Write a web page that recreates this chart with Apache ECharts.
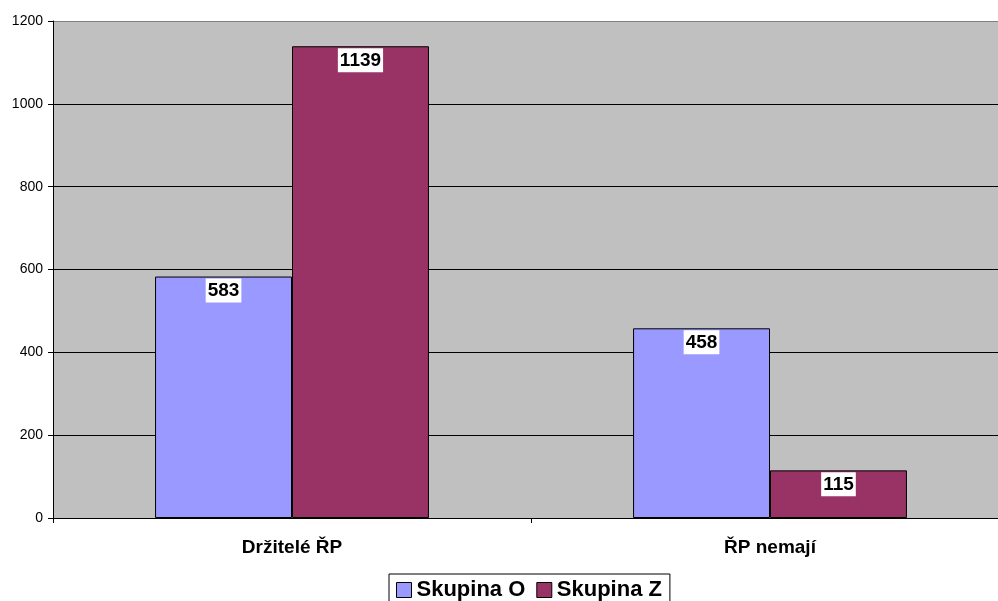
<!DOCTYPE html>
<html>
<head>
<meta charset="utf-8">
<script src="https://cdn.jsdelivr.net/npm/echarts@6/dist/echarts.min.js"></script>
<style>
  html, body { margin: 0; padding: 0; background: #ffffff; overflow: hidden; }
  /* The plot frame runs a little past the right edge of the page */
  #chart { width: 1009px; height: 601px; }
</style>
</head>
<body>
<div id="chart"></div>
<script>
// Categories and the two groups being compared
const categories = ['Držitelé ŘP', 'ŘP nemají'];
const seriesNames = ['Skupina O', 'Skupina Z'];
const skupinaO = [583, 458];
const skupinaZ = [1139, 115];
const yTicks = { min: 0, max: 1200, step: 200 };

const FONT = 'Liberation Sans, Arial, sans-serif';

const chart = echarts.init(document.getElementById('chart'), null, { renderer: 'canvas' });

const labelStyle = {
  show: true,
  position: 'insideTop',
  distance: 2,
  color: '#000000',
  fontFamily: FONT,
  fontWeight: 'bold',
  fontSize: 19,
  backgroundColor: '#ffffff',
  padding: [3, 2, 2, 2]
};

// Seven horizontal lines from 0 to 1200; the top one is the grey frame edge
const splitColors = [];
for (let v = yTicks.min; v <= yTicks.max; v += yTicks.step) {
  splitColors.push(v === yTicks.max ? '#808080' : '#000000');
}

chart.setOption({
  animation: false,
  backgroundColor: '#ffffff',
  grid: {
    left: 53,
    top: 21,
    bottom: 83,
    right: 0,
    show: true,
    backgroundColor: '#C0C0C0',
    borderWidth: 0
  },
  legend: {
    data: seriesNames,
    left: 389,
    top: 574,
    orient: 'horizontal',
    padding: [5, 8, 5, 7],
    itemGap: 11,
    itemWidth: 15,
    itemHeight: 15,
    icon: 'rect',
    backgroundColor: '#ffffff',
    borderColor: '#000000',
    borderWidth: 1,
    borderRadius: 0,
    itemStyle: { borderColor: '#000000', borderWidth: 1 },
    textStyle: {
      fontFamily: FONT,
      fontWeight: 'bold',
      fontSize: 22,
      color: '#000000'
    }
  },
  xAxis: {
    type: 'category',
    data: categories,
    axisLine: { show: true, lineStyle: { color: '#000000', width: 1 } },
    axisTick: { show: true, inside: false, length: 5, lineStyle: { color: '#000000' } },
    axisLabel: {
      margin: 20,
      fontFamily: FONT,
      fontWeight: 'bold',
      fontSize: 19,
      color: '#000000'
    },
    splitLine: { show: false }
  },
  yAxis: {
    type: 'value',
    min: yTicks.min,
    max: yTicks.max,
    interval: yTicks.step,
    axisLine: { show: true, lineStyle: { color: '#000000', width: 1 } },
    axisTick: { show: true, inside: false, length: 5, lineStyle: { color: '#000000' } },
    axisLabel: {
      margin: 10,
      fontFamily: FONT,
      fontSize: 14,
      color: '#000000',
      formatter: (v) => String(v)
    },
    splitLine: { show: true, lineStyle: { color: splitColors, width: 1 } }
  },
  series: [
    {
      name: seriesNames[0],
      type: 'bar',
      data: skupinaO,
      barGap: '0%',
      barCategoryGap: '42.7%',
      itemStyle: { color: '#9999FF', borderColor: '#000000', borderWidth: 1 },
      label: labelStyle
    },
    {
      name: seriesNames[1],
      type: 'bar',
      data: skupinaZ,
      barGap: '0%',
      barCategoryGap: '42.7%',
      itemStyle: { color: '#993366', borderColor: '#000000', borderWidth: 1 },
      label: labelStyle
    }
  ]
});
</script>
</body>
</html>
